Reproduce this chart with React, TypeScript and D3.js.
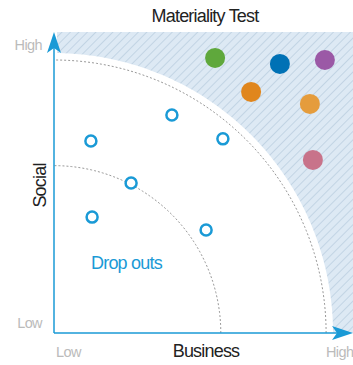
import React, { useEffect, useRef } from "react";
import * as d3 from "d3";

// business (x) and social (y) scores, 0-100
const dropOutX = [12.3, 39.3, 56.3, 25.7, 12.7, 50.7];
const dropOutY = [63.8, 72.4, 64.5, 49.8, 38.5, 34.2];

const materialX = [53.7, 75.3, 90.3, 65.7, 85.3, 86.3];
const materialY = [91.4, 89.4, 90.7, 80.1, 76.1, 57.5];
const materialColors = ["#5fa83c", "#0071b5", "#9b59a6", "#e0861d", "#e59c3c", "#c8738a"];

const arcRadii = [55.6, 90.7]; // dashed thresholds
const materialThreshold = 93;

const App = () => {
  const ref = useRef<SVGSVGElement>(null);

  useEffect(() => {
    const svg = d3.select(ref.current);
    svg.selectAll("*").remove();

    const W = 353, H = 365;
    const x = d3.scaleLinear().domain([0, 100]).range([54, 354]);
    const y = d3.scaleLinear().domain([0, 100]).range([333, 32]);
    const blue = "#1a9ad6";

    const defs = svg.append("defs");
    const pat = defs.append("pattern")
      .attr("id", "hatch")
      .attr("patternUnits", "userSpaceOnUse")
      .attr("width", 6)
      .attr("height", 6)
      .attr("patternTransform", "rotate(45)");
    pat.append("rect").attr("width", 6).attr("height", 6).attr("fill", "#dde9f4");
    pat.append("line")
      .attr("x1", 0).attr("y1", 0).attr("x2", 0).attr("y2", 6)
      .attr("stroke", "#a8bfd4").attr("stroke-width", 1);

    // hatched "material" area
    svg.append("rect")
      .attr("x", x(1)).attr("y", y(100))
      .attr("width", W - x(1)).attr("height", y(0) - y(100))
      .attr("fill", "url(#hatch)");

    const quarter = (r: number) => {
      const pts = d3.range(0, 91).map((a) => {
        const t = (a * Math.PI) / 180;
        return [x(r * Math.cos(t)), y(r * Math.sin(t))] as [number, number];
      });
      return pts;
    };

    const white = [[x(0), y(0)] as [number, number], ...quarter(materialThreshold)];
    svg.append("path")
      .attr("d", d3.line()(white) + "Z")
      .attr("fill", "#fff");

    arcRadii.forEach((r) => {
      svg.append("path")
        .attr("d", d3.line()(quarter(r)))
        .attr("fill", "none")
        .attr("stroke", "#999")
        .attr("stroke-width", 1)
        .attr("stroke-dasharray", "2,2");
    });

    // axes
    svg.append("line")
      .attr("x1", x(0)).attr("y1", y(0)).attr("x2", x(0)).attr("y2", y(100) + 12)
      .attr("stroke", blue).attr("stroke-width", 1.5);
    svg.append("line")
      .attr("x1", x(0)).attr("y1", y(0)).attr("x2", W - 12).attr("y2", y(0))
      .attr("stroke", blue).attr("stroke-width", 1.5);
    const ax = x(0), top = y(100);
    svg.append("path")
      .attr("d", `M${ax},${top} L${ax + 7},${top + 21} L${ax},${top + 16} L${ax - 7},${top + 21} Z`)
      .attr("fill", blue);
    const ay = y(0), right = W;
    svg.append("path")
      .attr("d", `M${right},${ay} L${right - 21},${ay - 7} L${right - 16},${ay} L${right - 21},${ay + 7} Z`)
      .attr("fill", blue);

    // points
    svg.selectAll(".drop")
      .data(dropOutX)
      .enter()
      .append("circle")
      .attr("class", "drop")
      .attr("cx", (d) => x(d))
      .attr("cy", (d, i) => y(dropOutY[i]))
      .attr("r", 5.5)
      .attr("fill", "#fff")
      .attr("stroke", blue)
      .attr("stroke-width", 2.5);

    svg.selectAll(".mat")
      .data(materialX)
      .enter()
      .append("circle")
      .attr("class", "mat")
      .attr("cx", (d) => x(d))
      .attr("cy", (d, i) => y(materialY[i]))
      .attr("r", 10)
      .attr("fill", (d, i) => materialColors[i]);

    const font = "'Liberation Sans', Arial, sans-serif";
    const txt = (s: string, tx: number, ty: number, size: number, color: string, anchor = "middle", ls = -0.8) =>
      svg.append("text")
        .attr("x", tx).attr("y", ty)
        .attr("text-anchor", anchor)
        .style("font-family", font)
        .style("font-size", `${size}px`)
        .style("letter-spacing", `${ls}px`)
        .attr("fill", color)
        .text(s);

    txt("Materiality Test", 205, 22, 18, "#222");
    txt("High", 42, 50, 14.5, "#bbb", "end", -0.6);
    txt("Low", 42, 328, 14.5, "#bbb", "end", -0.6);
    txt("Low", 56, 357, 14.5, "#bbb", "start", -0.6);
    txt("High", 326, 357, 14.5, "#bbb", "start", -0.6);
    txt("Business", 206, 357, 18, "#222");
    txt("Drop outs", 91, 269, 18, blue, "start");
    txt("Social", 0, 0, 18, "#222")
      .attr("transform", `translate(46,${y(49)}) rotate(-90)`);
  }, []);

  return <svg ref={ref} width={353} height={365} style={{ position: "absolute", left: 0, top: 0 }} />;
};

export default App;
